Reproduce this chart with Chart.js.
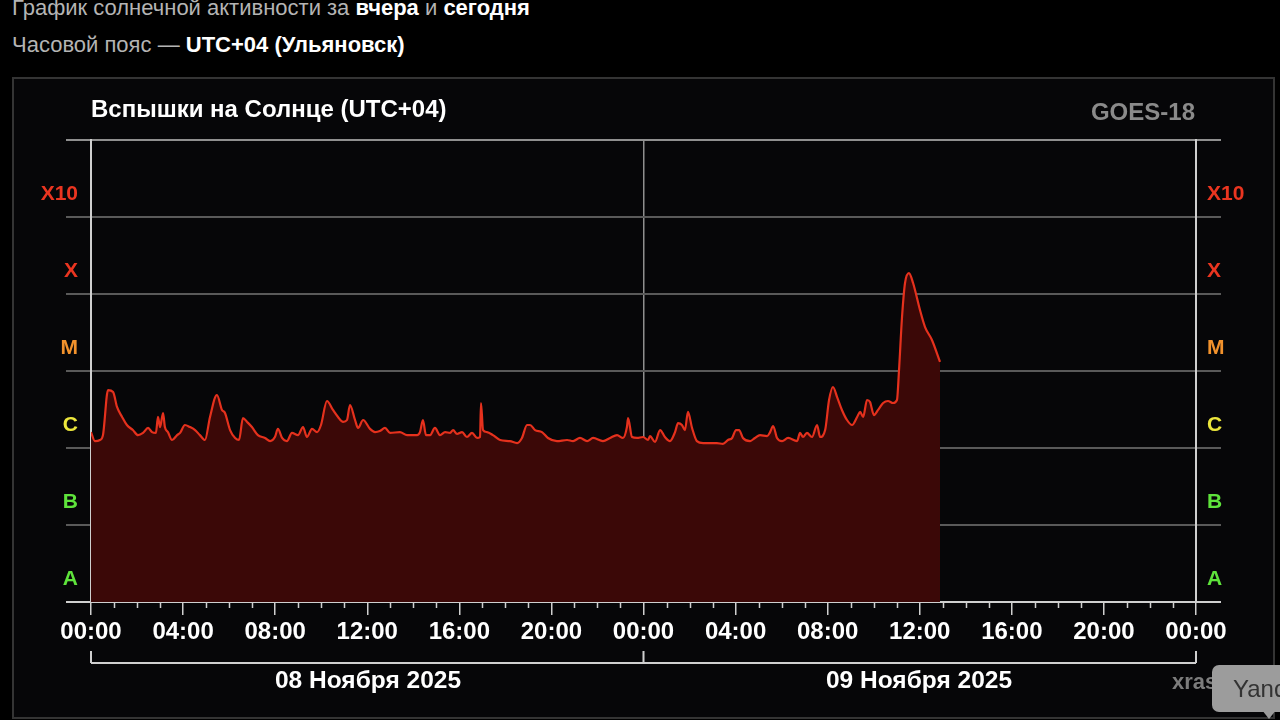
<!DOCTYPE html>
<html lang="ru">
<head>
<meta charset="utf-8">
<script src="https://cdn.jsdelivr.net/npm/chart.js@4/dist/chart.umd.min.js"></script>
<style>
  html, body { margin: 0; padding: 0; background: #000; width: 1280px; height: 720px; overflow: hidden; font-family: "Liberation Sans", Arial, Helvetica, sans-serif; }
  .t { position: absolute; white-space: nowrap; }
  #line1 { left: 12px; top: -4px; font-size: 22px; color: #b4b4b4; line-height: 24px; }
  #line2 { left: 12px; top: 33px; font-size: 22px; color: #b4b4b4; line-height: 24px; }
  #line1 b, #line2 b { color: #fff; }
  #box { position: absolute; left: 12px; top: 77px; width: 1259px; height: 638px; border: 2px solid #343434; background: #060608; }
  #title { left: 91px; top: 94px; font-size: 24px; font-weight: bold; color: #fff; line-height: 30px; }
  #sat { left: 1000px; width: 195px; text-align: right; top: 97px; font-size: 24px; font-weight: bold; color: #8a8a8a; line-height: 30px; }
  .date { top: 665px; width: 300px; text-align: center; font-size: 24.5px; font-weight: bold; color: #fff; line-height: 30px; }
  #xras { left: 1172px; top: 668px; font-size: 22px; font-weight: bold; color: #7c7c7c; line-height: 28px; }
  #yanc { left: 1212px; top: 665px; width: 80px; height: 47px; background: #9c9c9c; border-radius: 7px; overflow: hidden; }
  #yanc span { position: absolute; left: 21px; top: 10px; font-size: 24px; color: #333; }
  #tip { position: absolute; left: 1262px; top: 710px; width: 0; height: 0; border-left: 7px solid transparent; border-right: 7px solid transparent; border-top: 9px solid #9c9c9c; }
  canvas { position: absolute; left: 0; top: 0; }
</style>
</head>
<body>
<div id="line1" class="t">График солнечной активности за <b>вчера</b> и <b>сегодня</b></div>
<div id="line2" class="t">Часовой пояс — <b>UTC+04 (Ульяновск)</b></div>
<div id="box"></div>
<canvas id="c" width="1280" height="720"></canvas>
<div id="title" class="t">Вспышки на Солнце (UTC+04)</div>
<div id="sat" class="t">GOES-18</div>
<div class="t date" style="left:218px">08 Ноября 2025</div>
<div class="t date" style="left:769px">09 Ноября 2025</div>
<div id="xras" class="t">xras</div>
<div id="yanc" class="t"><span>Yandex</span></div>
<div id="tip"></div>
<script>
// Hours since 08 Nov 2025 00:00 (UTC+04)
const hours = [
  0.00,0.17,0.39,0.52,0.74,0.96,1.13,1.35,1.56,1.82,2.04,2.26,2.48,2.65,2.82,2.91,3.00,3.13,3.21,3.34,
  3.52,3.74,3.87,4.08,4.30,4.52,4.73,4.95,5.17,5.47,5.69,5.82,6.04,6.26,6.43,6.60,6.78,6.99,7.25,7.56,
  7.78,7.99,8.12,8.30,8.51,8.73,8.99,9.21,9.38,9.60,9.82,9.99,10.25,10.51,10.73,10.95,11.12,11.25,11.47,11.60,
  11.82,12.12,12.34,12.55,12.77,12.99,13.42,13.73,14.16,14.29,14.42,14.55,14.73,14.94,15.16,15.38,15.60,15.73,15.90,16.12,
  16.33,16.55,16.77,16.90,16.94,17.03,17.20,17.46,17.77,18.20,18.51,18.72,18.94,19.07,19.29,19.59,19.85,20.24,20.68,20.94,
  21.24,21.55,21.81,22.24,22.55,22.85,23.11,23.28,23.33,23.50,23.72,23.98,24.20,24.28,24.50,24.72,24.93,25.15,25.37,25.50,
  25.67,25.80,25.93,26.11,26.32,26.59,27.19,27.45,27.67,27.85,28.02,28.15,28.32,28.63,28.84,29.06,29.37,29.50,29.63,29.80,
  30.02,30.28,30.67,30.80,30.93,31.10,31.32,31.54,31.67,31.89,32.06,32.23,32.41,32.62,32.84,33.06,33.28,33.41,33.54,33.71,
  33.84,34.01,34.19,34.41,34.62,34.84,35.01,35.10,35.23,35.36,35.53,35.71,36.01,36.23,36.53,36.88
];
// X-ray flux, W/m^2
const flux = [
  1.61e-6,1.23e-6,1.27e-6,1.47e-6,5.66e-6,5.34e-6,3.41e-6,2.53e-6,1.99e-6,1.71e-6,1.47e-6,1.57e-6,1.82e-6,1.61e-6,1.57e-6,2.53e-6,1.87e-6,2.85e-6,1.87e-6,1.61e-6,
  1.27e-6,1.47e-6,1.57e-6,1.99e-6,1.87e-6,1.71e-6,1.47e-6,1.27e-6,2.53e-6,4.88e-6,3.12e-6,2.85e-6,1.71e-6,1.35e-6,1.27e-6,2.45e-6,2.18e-6,1.87e-6,1.47e-6,1.35e-6,
  1.23e-6,1.39e-6,1.77e-6,1.35e-6,1.23e-6,1.57e-6,1.47e-6,1.87e-6,1.39e-6,1.77e-6,1.61e-6,1.99e-6,4.08e-6,3.12e-6,2.53e-6,2.18e-6,2.31e-6,3.62e-6,2.31e-6,1.82e-6,
  2.31e-6,1.77e-6,1.61e-6,1.66e-6,1.82e-6,1.57e-6,1.61e-6,1.47e-6,1.47e-6,1.61e-6,2.31e-6,1.47e-6,1.47e-6,1.82e-6,1.47e-6,1.61e-6,1.57e-6,1.71e-6,1.52e-6,1.61e-6,
  1.39e-6,1.57e-6,1.35e-6,1.39e-6,3.84e-6,1.71e-6,1.61e-6,1.47e-6,1.27e-6,1.23e-6,1.16e-6,1.35e-6,1.99e-6,1.99e-6,1.71e-6,1.61e-6,1.35e-6,1.23e-6,1.27e-6,1.23e-6,
  1.35e-6,1.23e-6,1.35e-6,1.23e-6,1.35e-6,1.47e-6,1.35e-6,1.87e-6,2.45e-6,1.39e-6,1.35e-6,1.39e-6,1.27e-6,1.43e-6,1.20e-6,1.71e-6,1.39e-6,1.23e-6,1.61e-6,2.11e-6,
  1.99e-6,1.71e-6,2.94e-6,1.82e-6,1.23e-6,1.16e-6,1.16e-6,1.13e-6,1.27e-6,1.35e-6,1.71e-6,1.71e-6,1.35e-6,1.23e-6,1.35e-6,1.47e-6,1.43e-6,1.61e-6,1.93e-6,1.35e-6,
  1.23e-6,1.35e-6,1.23e-6,1.57e-6,1.39e-6,1.57e-6,1.39e-6,1.99e-6,1.39e-6,1.71e-6,4.20e-6,6.20e-6,4.59e-6,3.12e-6,2.31e-6,1.99e-6,2.53e-6,2.94e-6,2.53e-6,4.20e-6,
  3.96e-6,2.68e-6,3.12e-6,3.84e-6,4.08e-6,3.84e-6,4.20e-6,1.03e-5,5.02e-5,1.39e-4,1.87e-4,1.39e-4,6.19e-5,3.72e-5,2.53e-5,1.31e-5
];
const decadeTicks = [1e-8, 1e-7, 1e-6, 1e-5, 1e-4, 1e-3, 1e-2];
const classLabels = ['A', 'B', 'C', 'M', 'X', 'X10', ''];
const classColors = ['#5ee33b', '#5ee33b', '#ece63c', '#f2922c', '#ea3520', '#ea3520', 'rgba(0,0,0,0)'];
const hourTicks = Array.from({length: 49}, (_, i) => i);
const timeLabel = v => (v % 4 === 0) ? String(v % 24).padStart(2, '0') + ':00' : '';

const AXIS = '#cfcfcf';
const extras = {
  id: 'extras',
  afterDraw(chart) {
    const ctx = chart.ctx, x = chart.scales.x, bottom = chart.chartArea.bottom;
    ctx.save();
    ctx.strokeStyle = AXIS;
    ctx.lineWidth = 1.5;
    ctx.beginPath();
    hourTicks.forEach(h => {
      if (h % 4 !== 0) {
        const px = Math.round(x.getPixelForValue(h)) + 0.5;
        ctx.moveTo(px, bottom); ctx.lineTo(px, bottom + 6);
      }
    });
    ctx.stroke();
    // date brackets
    ctx.lineWidth = 2;
    const yb = 663;
    const p0 = x.getPixelForValue(0), p1 = x.getPixelForValue(24), p2 = x.getPixelForValue(48);
    ctx.beginPath();
    ctx.moveTo(p0, yb); ctx.lineTo(p2, yb);
    [p0, p1, p2].forEach(p => { ctx.moveTo(p, yb); ctx.lineTo(p, 651); });
    ctx.stroke();
    ctx.restore();
  }
};

new Chart(document.getElementById('c'), {
  type: 'line',
  data: {
    datasets: [{
      data: hours.map((h, i) => ({x: h, y: flux[i]})),
      borderColor: '#e5311d',
      borderWidth: 2.2,
      backgroundColor: '#3b0807',
      fill: 'start',
      pointRadius: 0,
      cubicInterpolationMode: 'monotone'
    }]
  },
  options: {
    responsive: false,
    animation: false,
    events: [],
    layout: { padding: { top: 140, left: 0, right: 0, bottom: 0 } },
    plugins: { legend: { display: false }, tooltip: { enabled: false } },
    scales: {
      x: {
        type: 'linear', min: 0, max: 48, z: 1,
        afterBuildTicks: s => { s.ticks = hourTicks.map(v => ({value: v})); },
        afterFit: s => { s.height = 118; },
        border: { display: false },
        grid: {
          color: c => (c.tick && c.tick.value === 24) ? '#8e8e8e' : 'rgba(0,0,0,0)',
          tickColor: c => (c.tick && c.tick.value % 4 === 0) ? AXIS : 'rgba(0,0,0,0)',
          lineWidth: 1.5, tickWidth: 1.5, tickLength: 13, drawTicks: true
        },
        ticks: {
          autoSkip: false, maxRotation: 0, padding: 3,
          color: '#ffffff',
          font: { family: '"Liberation Sans", Arial, sans-serif', size: 24, weight: 'bold' },
          callback: v => timeLabel(v)
        }
      },
      y: {
        type: 'logarithmic', position: 'left', min: 1e-8, max: 1e-2,
        afterBuildTicks: s => { s.ticks = decadeTicks.map(v => ({value: v})); },
        afterFit: s => { s.width = 91; },
        border: { display: true, color: AXIS, width: 2 },
        grid: {
          color: c => c.index === 0 ? AXIS : (c.index === 6 ? '#8f8f8f' : '#595959'),
          lineWidth: 2,
          tickLength: 25, drawTicks: true
        },
        ticks: {
          padding: -12, labelOffset: -23,
          color: c => classColors[c.index],
          font: { family: '"Liberation Sans", Arial, sans-serif', size: 21, weight: 'bold' },
          callback: (v, i) => classLabels[i]
        }
      },
      y2: {
        type: 'logarithmic', position: 'right', min: 1e-8, max: 1e-2,
        afterBuildTicks: s => { s.ticks = decadeTicks.map(v => ({value: v})); },
        afterFit: s => { s.width = 84; },
        border: { display: true, color: AXIS, width: 2 },
        grid: {
          drawOnChartArea: false,
          color: c => c.index === 0 ? AXIS : (c.index === 6 ? '#8f8f8f' : '#595959'),
          lineWidth: 2, tickLength: 25, drawTicks: true
        },
        ticks: {
          padding: -14, labelOffset: -23,
          color: c => classColors[c.index],
          font: { family: '"Liberation Sans", Arial, sans-serif', size: 21, weight: 'bold' },
          callback: (v, i) => classLabels[i]
        }
      }
    }
  },
  plugins: [extras]
});
</script>
</body>
</html>
